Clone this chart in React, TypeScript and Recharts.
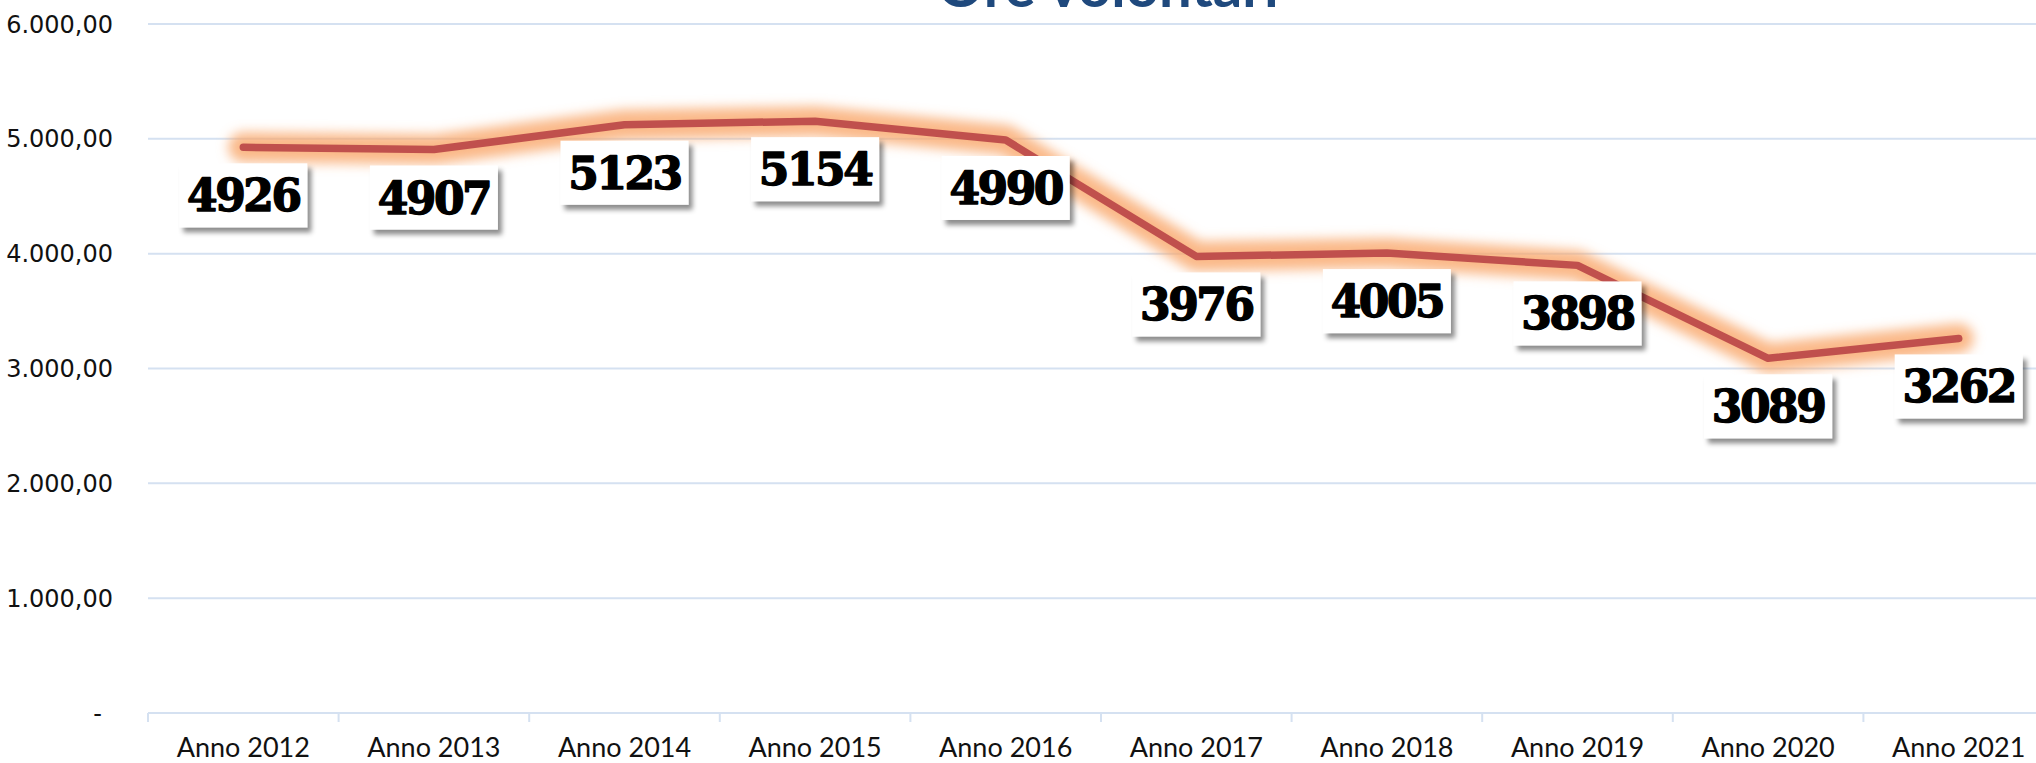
import React from 'react';
import { LineChart, Line, XAxis, YAxis, CartesianGrid, LabelList } from 'recharts';

const categories = ['Anno 2012', 'Anno 2013', 'Anno 2014', 'Anno 2015', 'Anno 2016', 'Anno 2017', 'Anno 2018', 'Anno 2019', 'Anno 2020', 'Anno 2021'];
const oreVolontari = [4926, 4907, 5123, 5154, 4990, 3976, 4005, 3898, 3089, 3262];
const yTicks = [0, 1000, 2000, 3000, 4000, 5000, 6000];

const data = categories.map((anno, i) => ({ anno, ore: oreVolontari[i] }));

const GRID = '#d5e1f1';

function formatIt(n: number) {
  if (n === 0) return '-';
  const int = Math.floor(n).toString().replace(/\B(?=(\d{3})+(?!\d))/g, '.');
  return int + ',00';
}

const YTick = (props: any) => {
  const { x, y, payload } = props;
  const v = payload.value;
  return (
    <text x={v === 0 ? x - 11 : x} y={y} dy={8.5} textAnchor="end" fontFamily="DejaVu Sans" fontSize={24} fill="#111">
      {formatIt(v)}
    </text>
  );
};

// category label + boundary tick marks (Excel puts ticks between categories)
const XTick = (props: any) => {
  const { x, y, payload, width, index, visibleTicksCount } = props;
  const half = width / visibleTicksCount / 2;
  return (
    <g>
      <line x1={x - half} x2={x - half} y1={y} y2={y + 9} stroke={GRID} strokeWidth={2} />
      {index === visibleTicksCount - 1 && (
        <line x1={x + half} x2={x + half} y1={y} y2={y + 9} stroke={GRID} strokeWidth={2} />
      )}
      <text x={x} y={y + 25} dy={19} textAnchor="middle" fontFamily="Lato" fontSize={27} fill="#111">
        {payload.value}
      </text>
    </g>
  );
};

const ValueLabel = (props: any) => {
  const { x, y, value } = props;
  const w = 128;
  const h = 64;
  const cy = y + 48;
  return (
    <g>
      <rect x={x - w / 2} y={cy - h / 2} width={w} height={h} fill="#fff" filter="url(#labelShadow)" />
      <text x={x} y={cy} dy={16} textAnchor="middle" fontFamily="DejaVu Serif" fontWeight="bold" fontSize={44} letterSpacing={-2.5} fill="#000" stroke="#000" strokeWidth={1.4} strokeLinejoin="round">
        {value}
      </text>
    </g>
  );
};

export default function App() {
  return (
    <div style={{ position: 'fixed', left: 0, top: 0, width: 2036, height: 763, overflow: 'hidden', background: '#fff' }}>
      <svg width={0} height={0} style={{ position: 'absolute' }}>
        <defs>
          <filter id="glow" x="-10%" y="-50%" width="120%" height="200%">
            <feGaussianBlur stdDeviation={6} />
          </filter>
          <filter id="labelShadow" x="-20%" y="-20%" width="150%" height="160%">
            <feDropShadow dx={4} dy={5} stdDeviation={2.5} floodColor="#000" floodOpacity={0.45} />
          </filter>
        </defs>
      </svg>
      <LineChart width={2100} height={763} data={data} margin={{ top: 24, right: 46, bottom: 0, left: 0 }}>
        <CartesianGrid horizontal vertical={false} stroke={GRID} strokeWidth={2} />
        <XAxis
          dataKey="anno"
          scale="band"
          height={50}
          axisLine={{ stroke: GRID, strokeWidth: 2 }}
          tickLine={false}
          tickSize={0}
          tickMargin={0}
          interval={0}
          tick={<XTick />}
        />
        <YAxis
          domain={[0, 6000]}
          ticks={yTicks}
          width={148}
          axisLine={false}
          tickLine={false}
          tickSize={0}
          tickMargin={35}
          tick={<YTick />}
        />
        {/* invisible carrier so the label boxes sit underneath the line */}
        <Line dataKey="ore" stroke="none" dot={false} activeDot={false} legendType="none" isAnimationActive={false}>
          <LabelList dataKey="ore" content={<ValueLabel />} />
        </Line>
        <Line
          dataKey="ore"
          stroke="#f9a86a"
          strokeOpacity={0.8}
          strokeWidth={30}
          strokeLinecap="round"
          strokeLinejoin="round"
          dot={false}
          activeDot={false}
          filter="url(#glow)"
          isAnimationActive={false}
        />
        <Line
          dataKey="ore"
          stroke="#c0504d"
          strokeWidth={7.5}
          strokeLinecap="round"
          strokeLinejoin="round"
          dot={false}
          isAnimationActive={false}
        />
      </LineChart>
      <svg width={2036} height={40} style={{ position: 'absolute', left: 0, top: 0, pointerEvents: 'none' }}>
        <text x={1108} y={7} textAnchor="middle" fontFamily="Lato" fontWeight="bold" fontSize={58} fill="#1f497d">
          Ore volontari
        </text>
      </svg>
    </div>
  );
}
